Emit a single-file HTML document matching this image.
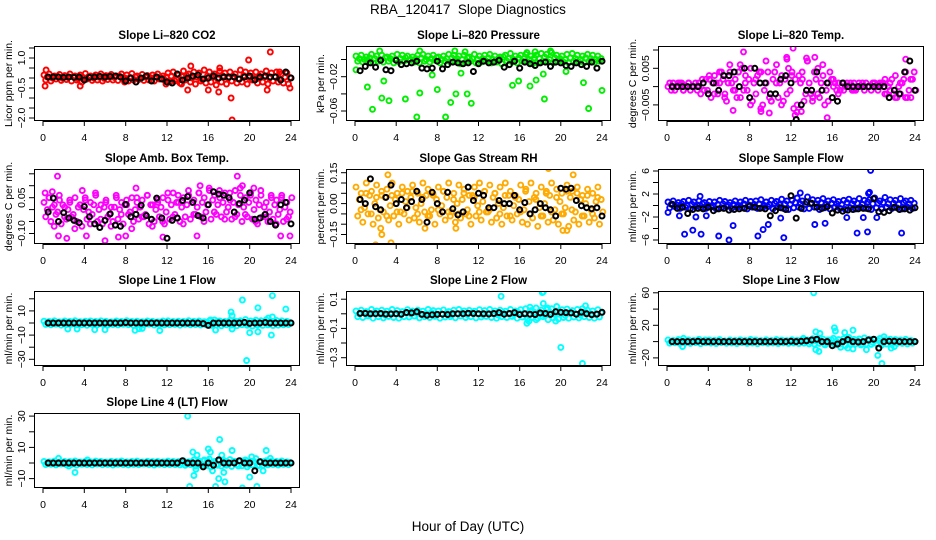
<!DOCTYPE html>
<html><head><meta charset="utf-8">
<style>
html,body{margin:0;padding:0;background:#fff;}
svg{display:block;font-family:"Liberation Sans",sans-serif;}
</style></head>
<body>
<svg id="chart" width="936" height="540" viewBox="0 0 936 540" xmlns="http://www.w3.org/2000/svg">
<rect width="936" height="540" fill="#fff"/>
<text x="468" y="14" font-size="13.5" text-anchor="middle">RBA_120417&#160; Slope Diagnostics</text>
<text x="468" y="531" font-size="13.5" text-anchor="middle">Hour of Day (UTC)</text>
</svg>
<script>
// ---- data ----
const xTicks = [0,4,8,12,16,20,24];

const p1_s1 = [0.15,0.2,0.1,0.18,0.12,0.2,0.1,0.15,0.22,0.1,0.15,0.2,0.12,0.18,0.1,0.2,0.15,0.22,0.1,0.18,0.12,0.15,0.2,0.1,0.25,0.3,0.15,0.35,0.2,0.3,0.25,0.4,0.3,0.2,0.35,0.25,0.3,0.2,0.4,0.3,0.25,0.3,0.2,0.35,0.25,0.3,0.2,0.25];
const p1_s2 = [-0.1,-0.15,-0.05,-0.12,-0.08,-0.15,-0.1,-0.2,-0.05,-0.12,-0.1,-0.15,-0.08,-0.1,-0.12,-0.05,-0.15,-0.1,-0.08,-0.12,-0.1,-0.15,-0.05,-0.1,-0.2,-0.15,-0.25,-0.1,-0.2,-0.3,-0.15,-0.25,-0.2,-0.35,-0.2,-0.3,-0.15,-0.25,-0.2,-0.3,-0.1,-0.25,-0.2,-0.3,-0.15,-0.2,-0.25,-0.3];
const p1_s3 = [0.05,0,0.08,-0.02,0.03,0.06,-0.03,0.02,0.07,0,0.04,-0.02,0.05,0.02,0.08,0,0.03,0.06,-0.02,0.04,0.01,0.07,0,0.05,0.1,-0.05,0.08,0.12,0,0.05,-0.08,0.1,0.05,-0.05,0.1,0,0.08,-0.05,0.12,0.03,-0.02,0.1,0.05,0,0.08,-0.03,0.05,0.02];
const p1_black = [0.05,0.05,0.05,0.03,0.05,0.03,0.05,-0.1,0.03,0.05,0.08,0.05,0.08,0.1,0.05,-0.15,0.0,-0.2,0.0,0.1,-0.15,0.05,-0.05,-0.2,-0.25,0.2,-0.1,0.0,0.1,0.15,-0.05,0.0,0.1,0.0,0.05,0.05,0.05,-0.05,0.05,0.1,-0.1,0.05,0.1,0.05,0.05,-0.1,0.3,0.0];
const p1_outX = [0.2,0.3,3.6,7.9,11.9,14.3,14.0,16.0,17.1,17.0,18.2,18.3,19.9,22.0,21.7,22.9,23.9,13.4];
const p1_outY = [-0.4,0.4,-0.4,-0.2,-0.3,0.6,-0.6,-0.6,0.5,-0.7,-1.0,-2.1,0.9,1.3,-0.6,0.3,-0.5,-0.3];

const p2_s1 = [0.004,0.005,0.003,0.006,0.004,0.005,0.003,0.004,0.006,0.005,0.004,0.003,0.005,0.006,0.004,0.005,0.003,0.004,0.006,0.005,0.004,0.005,0.003,0.006,0.004,0.005,0.006,0.004,0.003,0.005,0.007,0.004,0.005,0.006,0.004,0.005,0.007,0.006,0.008,0.005,0.004,0.006,0.007,0.005,0.004,0.006,0.005,0.004];
const p2_s2 = [-0.002,-0.003,-0.001,-0.004,-0.002,-0.003,-0.002,-0.004,-0.003,-0.002,-0.001,-0.003,-0.004,-0.002,-0.003,-0.001,-0.004,-0.002,-0.003,-0.002,-0.005,-0.003,-0.002,-0.004,-0.003,-0.002,-0.004,-0.003,-0.005,-0.002,-0.003,-0.004,-0.002,-0.003,-0.005,-0.004,-0.002,-0.003,-0.004,-0.002,-0.003,-0.004,-0.002,-0.003,-0.004,-0.002,-0.003,-0.002];
const p2_s3 = [0.001,0,0.002,0.001,0,0.002,0.001,0,0.001,0.002,0,0.001,0.002,0,0.001,0.002,0,0.001,0.002,0.001,0,0.002,0.001,0,0.001,0.002,0,0.001,0.003,0.001,0,0.002,0.001,0,0.002,0.001,0.003,0,0.002,0.001,0,0.002,0.001,0,0.002,0.001,0,0.001];
const p2_black = [-0.013,-0.008,-0.004,-0.009,-0.001,-0.012,-0.013,-0.001,-0.006,-0.005,-0.004,-0.002,-0.010,-0.011,-0.010,-0.002,-0.011,-0.006,-0.003,-0.004,-0.005,-0.004,-0.014,-0.005,-0.002,-0.004,-0.003,-0.001,-0.009,-0.006,-0.002,-0.010,-0.003,-0.005,-0.007,-0.004,-0.003,-0.008,-0.003,-0.004,-0.007,-0.008,-0.004,-0.006,-0.008,-0.003,-0.010,-0.002];
const p2_outX = [0.1,1.2,1.7,2.4,2.6,2.8,3.3,6.0,6.3,4.9,6.3,7.5,8.0,8.8,9.3,9.8,9.7,10.3,10.9,11.3,10.7,15.3,15.9,17.0,17.6,18.4,18.3,19.0,20.5,22.2,22.7,24.0,16.7,17.5];
const p2_outY = [-0.012,-0.032,-0.058,0.01,-0.045,-0.025,-0.048,-0.067,-0.039,-0.046,0.01,-0.018,-0.035,-0.067,-0.05,-0.04,0.01,-0.016,-0.04,-0.051,0.009,-0.03,-0.025,-0.031,-0.024,-0.046,-0.017,0.01,-0.014,-0.027,-0.057,-0.036,0.008,0.009];

const p3_s1 = [0,0.001,0,-0.001,0.001,0,0.001,-0.001,0.002,0.003,0.001,-0.002,0.004,0.002,-0.003,0.003,0.005,-0.002,0.004,0.001,-0.004,0.006,0.003,-0.002,0.004,-0.005,0.002,0.007,-0.003,0.005,0.003,-0.004,0,0.001,-0.001,0,0.001,0,-0.001,0,0.001,0,0.002,-0.001,0.003,-0.002,0.004,-0.003];
const p3_s2 = [0.001,-0.001,0.001,0,-0.001,0.001,-0.002,0.002,-0.003,0.001,0.004,-0.004,0.001,-0.003,0.005,-0.001,-0.004,0.003,-0.005,0.004,0.002,-0.003,-0.004,0.005,-0.006,0.003,-0.004,0.001,0.004,-0.003,-0.005,0.004,0.001,-0.001,0,0.001,-0.001,0,0.001,-0.001,0,0.001,-0.002,0.002,-0.003,0.001,-0.003,0.002];
const p3_s3 = [-0.001,0,0.001,0,0,-0.001,0.002,-0.001,0.001,-0.002,0.002,0.001,-0.001,0.004,-0.001,0.002,0.001,0.004,-0.001,-0.003,0.004,0.001,0.002,-0.001,0.002,0.001,-0.002,-0.002,0.002,0.001,-0.001,0.002,-0.001,0,0.001,-0.001,0,0.001,0,0.001,-0.001,0.001,0,-0.002,0,0.002,-0.001,0.004];
const p3_s4 = [0,0.001,-0.001,0.001,0,0,-0.001,0.003,-0.002,0.004,-0.003,0.006,-0.001,0.006,0.001,-0.005,0.002,-0.006,0.007,-0.004,0.001,-0.005,0.008,0.003,-0.007,0.004,0.007,-0.004,-0.002,0.006,0.001,0.002,-0.002,0.001,0,-0.001,0.001,0,0,0.001,0.001,-0.002,0.001,-0.003,0.001,-0.003,0.002,-0.001];
const p3_black = [0,0,0,0,0,0,0.001,-0.002,0.001,-0.001,0.003,0.003,0.004,0,0.005,-0.003,0.005,0.001,0.001,-0.002,-0.002,0.002,0.003,0.001,-0.009,-0.005,-0.001,-0.001,0.004,-0.001,0.001,-0.003,-0.004,0.001,0,0,0,0,0,0,0,0,-0.003,-0.001,-0.002,0.004,0.007,-0.001];
const p3_outX = [12.2,7.4,14.3,23.1,6.4,9.1,12.4,15.5,13.0,9.9,11.6,13.5];
const p3_outY = [0.0105,0.0095,0.008,0.0075,-0.0065,-0.0068,-0.0078,-0.0085,-0.0068,-0.0072,0.0075,0.0078];

const p4_s1 = [0.03,0.05,0.02,0.04,0.01,0.03,0.05,0.02,0.04,0.03,0.06,0.02,0.04,0.01,0.05,0.03,0.02,0.05,0.03,0.04,0.06,0.02,0.03,0.05,0.04,0.07,0.03,0.05,0.06,0.04,0.07,0.05,0.08,0.06,0.05,0.07,0.04,0.08,0.06,0.05,0.07,0.04,0.06,0.03,0.05,0.04,0.06,0.03];
const p4_s2 = [-0.03,-0.05,-0.02,-0.06,-0.04,-0.03,-0.05,-0.07,-0.04,-0.02,-0.05,-0.06,-0.03,-0.05,-0.04,-0.06,-0.02,-0.05,-0.04,-0.03,-0.06,-0.05,-0.03,-0.06,-0.04,-0.02,-0.05,-0.03,-0.04,-0.02,-0.03,-0.01,-0.04,-0.02,-0.03,-0.01,-0.04,-0.02,-0.05,-0.03,-0.04,-0.06,-0.03,-0.05,-0.04,-0.02,-0.05,-0.03];
const p4_s3 = [0,0.01,-0.01,0.02,0,-0.02,0.01,0,-0.01,0.02,0,0.01,-0.02,0.01,0,0.02,-0.01,0,0.01,-0.02,0.02,0,0.01,-0.01,0.02,0.03,0.01,0.02,0.03,0.01,0.03,0.02,0.04,0.02,0.03,0.01,0.03,0.02,0.01,0.03,0,0.02,0.01,-0.01,0.02,0,0.01,-0.01];
const p4_s4 = [0.05,-0.07,0.06,-0.03,0.04,-0.08,0.02,0.05,-0.06,0.07,-0.04,0.03,-0.07,0.06,-0.02,0.04,-0.08,0.05,-0.03,0.06,-0.07,0.04,-0.05,0.07,-0.03,0.06,-0.06,0.08,-0.02,0.07,-0.05,0.09,-0.01,0.08,-0.04,0.07,-0.03,0.09,-0.02,0.06,-0.05,0.08,-0.03,0.06,-0.06,0.05,-0.04,0.05];
const p4_black = [-0.01,0.048,-0.05,-0.013,-0.035,-0.045,-0.055,0.013,-0.03,-0.06,-0.075,-0.045,-0.018,-0.065,-0.07,0.022,-0.03,-0.02,0.018,-0.025,-0.04,0.048,-0.035,-0.12,-0.045,-0.035,0.038,0.055,0.03,-0.025,-0.035,0.02,0.075,0.065,0.06,0.05,-0.01,0.025,0.04,0.07,-0.04,-0.035,-0.02,-0.05,-0.065,0.02,0.03,-0.06];
const p4_outX = [1.4,18.8,15.2,0.2,2.3,1.5,6.0,4.2,7.3,8.0,11.6,14.9,23.0,23.9,9.0,19.3,20.4,0.9,3.8];
const p4_outY = [0.14,0.14,0.1,0.07,-0.12,-0.11,-0.13,-0.11,-0.115,-0.11,-0.115,-0.11,-0.11,-0.11,0.09,0.1,0.09,0.075,0.08];

const p5_s1 = [0.08,0.05,0.1,0.06,0.09,0.04,0.07,0.1,0.05,0.08,0.06,0.09,0.05,0.1,0.07,0.04,0.08,0.06,0.1,0.05,0.09,0.07,0.04,0.08,0.1,0.06,0.09,0.05,0.08,0.1,0.06,0.04,0.09,0.07,0.1,0.05,0.08,0.06,0.1,0.07,0.05,0.09,0.06,0.08,0.04,0.07,0.05,0.08];
const p5_s2 = [-0.06,-0.09,-0.05,-0.1,-0.07,-0.04,-0.08,-0.06,-0.1,-0.05,-0.08,-0.07,-0.09,-0.04,-0.06,-0.1,-0.05,-0.08,-0.06,-0.09,-0.07,-0.05,-0.1,-0.06,-0.08,-0.04,-0.09,-0.07,-0.1,-0.06,-0.08,-0.05,-0.09,-0.1,-0.07,-0.11,-0.06,-0.09,-0.08,-0.1,-0.05,-0.11,-0.08,-0.1,-0.06,-0.09,-0.07,-0.1];
const p5_s3 = [0.02,-0.02,0.04,0,-0.03,0.03,-0.01,0.02,-0.04,0.01,0.03,-0.02,0,0.04,-0.03,0.02,-0.01,0.03,-0.04,0,0.02,-0.03,0.04,-0.01,0.01,-0.04,0.03,0,-0.02,0.04,-0.01,0.02,-0.03,0.01,0.03,-0.02,0,0.04,-0.03,0.01,-0.02,0.03,-0.04,0.02,0,-0.03,0.01,0.02];
const p5_s4 = [-0.03,0.05,-0.05,0.03,0.06,-0.06,0.04,-0.04,0.05,-0.02,0.06,-0.05,0.03,-0.06,0.05,-0.03,0.06,-0.04,0.02,-0.05,0.05,-0.06,0.03,-0.04,0.06,-0.03,0.05,-0.05,0.04,-0.06,0.03,-0.04,0.06,-0.05,0.02,-0.06,0.05,-0.04,0.03,-0.05,0.06,-0.03,0.05,-0.06,0.04,-0.05,0.03,-0.04];
const p5_black = [0.02,0,0.12,-0.015,-0.03,0.03,0.09,0,0.02,-0.02,0.01,0.06,0.02,-0.09,0.055,0,-0.04,0.055,-0.025,-0.055,-0.04,0.08,0.015,0.05,0.04,-0.02,-0.02,0.015,0,0,0.04,-0.03,0.005,-0.05,-0.03,0,-0.02,-0.03,-0.06,0.075,0.07,0.075,0.015,-0.01,-0.02,-0.025,-0.02,-0.06];
const p5_outX = [2.0,2.6,2.5,3.5,18.8,20.2,20.6,9.8,6.8,3.2,21.2];
const p5_outY = [-0.2,-0.15,-0.12,-0.19,0.17,-0.13,-0.13,-0.12,-0.12,0.14,0.14];

const p6_s1 = [0.6,0.8,0.5,0.7,0.9,0.6,0.8,0.5,0.7,0.6,0.9,0.7,0.5,0.8,0.6,0.9,0.7,0.8,1.0,0.6,0.9,0.7,1.1,0.8,0.9,1.3,0.8,1.5,1.0,0.9,1.2,0.8,1.0,0.7,0.9,1.1,0.8,1.2,0.9,1.0,1.3,0.8,1.4,1.0,0.9,1.2,0.8,0.9];
const p6_s2 = [-0.4,-0.2,-0.5,-0.3,-0.6,-0.2,-0.4,-0.5,-0.3,-0.6,-0.4,-0.2,-0.5,-0.3,-0.4,-0.6,-0.3,-0.5,-0.4,-0.2,-0.6,-0.3,-0.5,-0.7,-0.4,-0.3,-0.6,-0.5,-0.3,-0.7,-0.4,-0.6,-0.3,-0.5,-0.7,-0.4,-0.6,-0.3,-0.5,-0.7,-0.4,-0.6,-0.3,-0.5,-0.4,-0.6,-0.3,-0.5];
const p6_s3 = [0.2,0.1,0.3,0,0.2,0.1,0.3,0.1,0,0.2,0.3,0.1,0.2,0,0.3,0.1,0.2,0.3,0,0.2,0.4,0.1,0.3,0.2,0.5,0.3,0.2,0.4,0.3,0.5,0.2,0.4,0.3,0.2,0.5,0.3,0.4,0.2,0.6,0.3,0.4,0.5,0.3,0.4,0.2,0.5,0.3,0.4];
const p6_black = [0.2,-0.5,-0.3,-1.4,-0.7,-0.5,-0.6,-0.3,-0.9,-0.6,-0.5,-0.8,-0.7,-0.6,-0.5,-0.1,-0.3,-0.5,-0.6,-1.8,-0.9,-0.4,-0.7,1.7,-2.2,-0.5,0.6,0.4,-0.3,-0.5,-0.2,-1.3,-0.8,-1.0,-0.8,-0.7,-0.6,-0.5,-0.6,1.2,-1.1,-1.2,-0.9,-0.3,-0.7,-0.6,-0.8,-0.4];
const p6_outX = [0.1,1.2,1.7,2.5,3.3,2.8,5.0,6.0,6.4,8.8,9.3,9.8,11.3,11.0,12.9,14.3,15.3,18.4,19.4,22.7,19.7,19.6,19.5,20.3,19.0,17.4,3.8,3.2];
const p6_outY = [-1.2,-1.8,-5.0,-4.3,-5.0,-2.0,-5.3,-6.0,-3.5,-5.3,-4.2,-3.3,-5.6,-2.2,2.2,-3.3,-3.1,-4.8,-4.6,-4.8,6.1,2.3,2.1,-2.1,-2.1,-2.1,-1.8,1.6];

const p7_s1 = [1.5,1.2,1.8,1.0,1.6,1.3,1.9,1.1,1.5,1.7,1.2,1.8,1.4,1.0,1.6,1.3,1.9,1.2,1.5,1.1,1.7,1.4,1.0,1.6,1.8,1.3,1.5,1.2,1.9,1.4,1.6,1.1,1.8,2.5,1.7,1.3,2.2,1.5,1.9,2.8,1.6,2.3,1.9,2.6,1.5,2.1,1.8,1.4];
const p7_s2 = [-1.2,-1.5,-1.0,-1.8,-1.3,-1.1,-1.6,-1.4,-1.9,-1.2,-1.5,-1.0,-1.7,-1.3,-1.6,-1.1,-1.4,-1.8,-1.2,-1.5,-1.0,-1.7,-1.3,-1.6,-1.4,-1.2,-1.8,-1.1,-1.5,-1.3,-1.7,-1.4,-2.0,-1.6,-2.3,-1.5,-1.8,-2.2,-1.4,-1.9,-2.5,-1.7,-2.0,-1.6,-2.1,-1.8,-1.5,-1.3];
const p7_s3 = [0.3,-0.2,0.4,0,-0.3,0.2,0.5,-0.1,0.3,-0.4,0.1,0.2,-0.2,0.4,0,-0.3,0.2,0.1,-0.1,0.3,-0.2,0.4,0,-0.3,0.2,-0.1,0.3,0.5,-0.2,0.1,-0.3,0.4,0,1.5,-0.5,0.8,-1.0,1.2,0.5,-0.8,1.0,-0.5,0.7,-0.3,0.9,0.2,-0.4,0.3];
const p7_black = [0,0,0,0,0,0,0,0,0,0,0,0,0,0,0,0.3,0,0,0,0,0,0,0,0,0,0,0,0,0,0,-0.5,-2.0,0,0,0,0,0,0,0.5,-0.3,0,0,0.4,0,0,0,0,0];
const p7_outX = [2.4,3.3,5.0,6.0,8.9,9.3,9.6,11.3,16.7,18.3,18.2,18.3,19.3,19.7,20.0,20.8,20.8,22.1,22.2,22.2,23.5,21.8,16.2];
const p7_outY = [-5,-5,-5.5,-5.5,-6,-4.7,-4.5,-6.2,-5.8,-5,9,6,19,-31,-8,-7.3,12.5,-10,22.5,5,11.5,4,2.5];

const p8_s1 = [0.02,0.025,0.015,0.03,0.02,0.025,0.018,0.03,0.022,0.015,0.028,0.02,0.025,0.018,0.03,0.022,0.02,0.027,0.015,0.025,0.03,0.02,0.024,0.018,0.028,0.022,0.03,0.02,0.025,0.018,0.03,0.02,0.028,0.035,0.022,0.04,0.025,0.03,0.035,0.02,0.028,0.032,0.022,0.03,0.035,0.025,0.02,0.028];
const p8_s2 = [-0.02,-0.025,-0.015,-0.03,-0.02,-0.028,-0.018,-0.025,-0.03,-0.02,-0.022,-0.015,-0.028,-0.02,-0.025,-0.018,-0.03,-0.022,-0.02,-0.027,-0.015,-0.025,-0.02,-0.028,-0.022,-0.018,-0.025,-0.03,-0.02,-0.025,-0.018,-0.03,-0.022,-0.035,-0.025,-0.03,-0.02,-0.04,-0.028,-0.035,-0.025,-0.03,-0.022,-0.028,-0.02,-0.025,-0.03,-0.022];
const p8_s3 = [0,0.005,-0.005,0.008,0,-0.008,0.005,0,-0.005,0.008,0,0.005,-0.005,0,0.008,-0.005,0,0.005,-0.008,0,0.005,-0.005,0.008,0,-0.005,0.005,0,-0.008,0.005,0,-0.005,0.008,0,-0.01,0.01,0,-0.01,0.012,-0.005,0.008,-0.01,0.005,0,-0.008,0.01,0,-0.005,0.005];
const p8_black = [0.003,0.003,0,0.001,0.002,-0.002,-0.001,0.001,-0.003,0.009,0.006,0.014,-0.004,-0.01,-0.007,-0.004,-0.003,-0.005,0.001,0.001,0.001,0.004,0.002,0.001,0,-0.001,0.002,0.008,-0.003,0.002,0.008,-0.005,0,-0.003,-0.005,0.006,0.002,-0.004,0.014,0.01,0.008,0.006,-0.003,0.012,0,-0.006,-0.002,0.01];
const p8_outX = [14.2,18.3,18.2,18.3,20.0,22.1,16.7,16.9,17.6,19.5,19.6,22.4,17.0,18.7];
const p8_outY = [0.12,0.15,0.145,0.07,-0.23,-0.34,-0.065,-0.05,-0.04,-0.05,0.05,0.055,0.045,0.04];

const p9_s1 = [2,1.5,2.5,1,2,1.5,2.8,1.2,2,1.6,2.4,1,2,1.5,2.2,1.3,2.6,1.8,1.2,2.2,1.5,2.5,1.8,1.2,2.3,1.6,2.8,2,3.5,2.5,3,2,4,2.5,3.5,5,2.8,3.2,4.5,3,2.5,3.8,2.2,3,2.5,2,2.8,1.5];
const p9_s2 = [-2,-1.5,-2.5,-1.8,-2.2,-1.2,-2.6,-1.5,-2,-2.4,-1.3,-2.1,-1.7,-2.5,-1.4,-2.2,-1.8,-2.6,-1.5,-2.1,-1.9,-2.4,-1.6,-2.2,-1.8,-2.5,-2,-2.8,-3,-2.2,-3.5,-2.5,-4,-3,-5,-3.5,-2.8,-4,-3,-3.5,-2.5,-4.5,-3,-3.5,-2.5,-2.2,-2.8,-2];
const p9_s3 = [0,0.5,-0.5,0.8,0,-0.8,0.5,0,-0.5,0.8,0,0.5,-0.5,0,0.8,-0.5,0,0.5,-0.8,0,0.5,-0.5,0.8,0,-0.5,0.5,0,-0.8,1,0,-1.5,2,0,-2,3,-1,1,-3,2,-1,1.5,-2,1,-1,0.5,0,-0.5,0.5];
const p9_black = [0,0,0,0,0,0.5,0,0,0,0,0,0,0,0,0,0,0,0,0,0,0,0,0,0.5,0,0.5,1,2,3,0,0,-5,-3,0,2.5,0,-0.5,0,2,3,-8,0,0.5,0.5,0,0,0,0];
const p9_outX = [14.2,14.4,14.8,16.2,16.3,17.2,18.0,18.0,17.5,14.4,14.7,19.3,20.4,20.8,21.7,22.0,15.3,16.8,13.2,1.5,1.6,3.7,21.0];
const p9_outY = [60,12,10,17,13,11,14,-9,-8,-10,-12,-10,-17,-27,-8,-6,-4,-7,4,-6,4,2,6];

const p10_s1 = [1,0.8,1.2,0.6,1,0.9,1.3,0.7,1.1,0.8,1.2,1,0.7,1.1,0.9,1.3,0.8,1,1.2,0.7,1.1,0.9,1,0.8,1.2,1,0.9,1.5,0.8,2,1.2,1.5,2.5,1,1.8,1.3,2.2,1,1.5,2,1.2,2.8,1,1.5,1.2,1,1.3,0.8];
const p10_s2 = [-1,-0.8,-1.2,-0.7,-1.1,-0.9,-1.3,-0.8,-1,-1.2,-0.7,-1.1,-0.9,-1.3,-0.8,-1,-1.2,-0.9,-1.1,-0.7,-1,-1.3,-0.8,-1.1,-1,-0.9,-1.2,-1.5,-1,-2,-1.3,-1.8,-2.5,-1.2,-2,-1.5,-2.2,-1,-1.8,-2.5,-1.3,-2,-1.5,-1.2,-1,-1.3,-0.9,-1.1];
const p10_s3 = [0,0.3,-0.3,0.2,0,-0.2,0.3,0,-0.3,0.2,0,0.3,-0.2,0,0.3,-0.3,0,0.2,-0.3,0,0.3,-0.2,0.2,0,-0.3,0.3,0,-0.5,0.8,0,-1,1.5,0,-1.5,2,-1,1,-2,1.5,-1,1,-1.5,1,-0.5,0.5,0,-0.3,0.3];
const p10_black = [0,0,0,0,0,0,0,0,0,0,0,0,0,0,0,0,0,0,0,0,0,0,0,0,0,0,1.5,0,0,0,-2.5,0,-1.5,2,0,0,0,1.5,0,0,-5,0.8,0,0,0,0,0,0];
const p10_outX = [14.0,14.2,14.5,14.6,14.9,14.8,16.0,16.2,16.4,16.7,17.0,17.1,17.3,17.5,17.6,18.3,19.3,20.0,20.2,20.7,21.6,21.3,22.0,22.8,1.5,3.1,4.3,2.5,12.8,15.6];
const p10_outY = [30,-15,7,-8,5,-4,9,7,-5,-15,-10,15,5,-6,-12,8,-16,-9,4,-15,8,-5,3,0,3,-6,2,-2,-1,2];

// ---- layout ----
const cols = [{l:34,r:300},{l:346,r:611},{l:658,r:924}];
const rows = [{t:46,b:121},{t:169,b:244},{t:291,b:366},{t:413,b:488}];

const panels = [
 {name:'co2', title:'Slope Li\u2013820 CO2', ylab:'Licor ppm per min.', c:0,r:0, ymin:-2.15, ymax:1.6, ticks:[-2,-1.5,-1,-0.5,0,0.5,1,1.5], labels:[-2.0,-0.5,1.0], fmt:1, col:'#ff0000', s:[p1_s1,p1_s2,p1_s3], bl:p1_black, ox:p1_outX, oy:p1_outY},
 {name:'pressure', title:'Slope Li\u2013820 Pressure', ylab:'kPa per min.', c:1,r:0, ymin:-0.0716, ymax:0.0157, ticks:[-0.06,-0.04,-0.02,0], labels:[-0.06,-0.02], fmt:2, col:'#00ee00', s:[p2_s1,p2_s2,p2_s3], bl:p2_black, ox:p2_outX, oy:p2_outY},
 {name:'temp', title:'Slope Li\u2013820 Temp.', ylab:'degrees C per min.', c:2,r:0, ymin:-0.0094, ymax:0.0111, ticks:[-0.005,0,0.005,0.01], labels:[-0.005,0.005], fmt:3, col:'#ff00ff', s:[p3_s1,p3_s2,p3_s3,p3_s4], bl:p3_black, ox:p3_outX, oy:p3_outY},
 {name:'amb-box-temp', title:'Slope Amb. Box Temp.', ylab:'degrees C per min.', c:0,r:1, ymin:-0.144, ymax:0.17, ticks:[-0.1,-0.05,0,0.05,0.1,0.15], labels:[-0.1,0.05], fmt:2, col:'#ff00ff', s:[p4_s1,p4_s2,p4_s3,p4_s4], bl:p4_black, ox:p4_outX, oy:p4_outY},
 {name:'gas-stream-rh', title:'Slope Gas Stream RH', ylab:'percent per min.', c:1,r:1, ymin:-0.196, ymax:0.168, ticks:[-0.15,-0.1,-0.05,0,0.05,0.1,0.15], labels:[-0.15,0,0.15], fmt:2, col:'#ffaa00', s:[p5_s1,p5_s2,p5_s3,p5_s4], bl:p5_black, ox:p5_outX, oy:p5_outY},
 {name:'sample-flow', title:'Slope Sample Flow', ylab:'ml/min per min.', c:2,r:1, ymin:-6.7, ymax:6.35, ticks:[-6,-4,-2,0,2,4,6], labels:[-6,-2,2,6], fmt:0, col:'#0000ff', s:[p6_s1,p6_s2,p6_s3], bl:p6_black, ox:p6_outX, oy:p6_outY},
 {name:'line1-flow', title:'Slope Line 1 Flow', ylab:'ml/min per min.', c:0,r:2, ymin:-35.5, ymax:26.4, ticks:[-30,-20,-10,0,10,20], labels:[-30,-10,10], fmt:0, col:'#00ffff', s:[p7_s1,p7_s2,p7_s3], bl:p7_black, ox:p7_outX, oy:p7_outY},
 {name:'line2-flow', title:'Slope Line 2 Flow', ylab:'ml/min per min.', c:1,r:2, ymin:-0.357, ymax:0.156, ticks:[-0.3,-0.2,-0.1,0,0.1], labels:[-0.3,-0.1,0.1], fmt:1, col:'#00ffff', s:[p8_s1,p8_s2,p8_s3], bl:p8_black, ox:p8_outX, oy:p8_outY},
 {name:'line3-flow', title:'Slope Line 3 Flow', ylab:'ml/min per min.', c:2,r:2, ymin:-30, ymax:62.2, ticks:[-20,0,20,40,60], labels:[-20,20,60], fmt:0, col:'#00ffff', s:[p9_s1,p9_s2,p9_s3], bl:p9_black, ox:p9_outX, oy:p9_outY},
 {name:'line4-flow', title:'Slope Line 4 (LT) Flow', ylab:'ml/min per min.', c:0,r:3, ymin:-16, ymax:32, ticks:[-10,0,10,20,30], labels:[-10,10,30], fmt:0, col:'#00ffff', s:[p10_s1,p10_s2,p10_s3], bl:p10_black, ox:p10_outX, oy:p10_outY}
];

const NS = 'http://www.w3.org/2000/svg';
const svg = document.getElementById('chart');
function mk(tag, attrs, parent){
  const e = document.createElementNS(NS, tag);
  for (const k in attrs) e.setAttribute(k, attrs[k]);
  (parent||svg).appendChild(e);
  return e;
}
function fmtNum(v, d){
  let s = v.toFixed(d);
  if (parseFloat(s) === 0) s = (0).toFixed(d);
  return s.replace('-', '\u2212');
}

panels.forEach(p => {
  const C = cols[p.c], R = rows[p.r];
  const L = C.l, Rr = C.r, T = R.t, B = R.b;
  const xs = h => L + 9 + h * (Rr - L - 18) / 24;
  const ys = v => B - (v - p.ymin) / (p.ymax - p.ymin) * (B - T);

  const g = mk('g', {});
  
  

  const clip = mk('clipPath', {id: 'clip-' + p.name}, g);
  mk('rect', {x: L, y: T, width: Rr - L, height: B - T}, clip);

  const pts = mk('g', {'clip-path': 'url(#clip-' + p.name + ')', fill: 'none', 'stroke-width': 1.9}, g);
  
  

  p.s.forEach((arr, k) => {
    arr.forEach((v, i) => {
      const h = 0.1 + i * 0.5 + k * 0.16;
      const c = mk('circle', {cx: xs(h).toFixed(1), cy: ys(v).toFixed(1), r: 2.5, stroke: p.col}, pts);
      
      
    });
  });
  p.ox.forEach((h, i) => {
    const c = mk('circle', {cx: xs(h).toFixed(1), cy: ys(p.oy[i]).toFixed(1), r: 2.5, stroke: p.col}, pts);
    
    
  });
  p.bl.forEach((v, i) => {
    const h = 0.5 + i * 0.5;
    const c = mk('circle', {cx: xs(h).toFixed(1), cy: ys(v).toFixed(1), r: 2.5, stroke: '#000', 'stroke-width': 2}, pts);
    
    
  });

  const box = mk('rect', {x: L + 0.5, y: T + 0.5, width: Rr - L - 1, height: B - T - 1, fill: 'none', stroke: '#000', 'stroke-width': 1}, g);
  
  

  const xa = mk('g', {stroke: '#000', 'stroke-width': 1}, g);
  
  
  mk('line', {x1: xs(xTicks[0]), x2: xs(xTicks[xTicks.length - 1]), y1: B + 0.5, y2: B + 0.5}, xa);
  xTicks.forEach(t => {
    mk('line', {x1: xs(t).toFixed(1), x2: xs(t).toFixed(1), y1: B, y2: B + 5}, xa);
    const tx = mk('text', {x: xs(t).toFixed(1), y: B + 20, 'font-size': 10.5, 'text-anchor': 'middle', stroke: 'none', fill: '#000'}, g);
    
    
    tx.textContent = t;
  });

  const ya = mk('g', {stroke: '#000', 'stroke-width': 1}, g);
  
  
  mk('line', {x1: L + 0.5, x2: L + 0.5, y1: ys(p.ticks[0]), y2: ys(p.ticks[p.ticks.length - 1])}, ya);
  p.ticks.forEach(t => {
    mk('line', {x1: L - 5, x2: L, y1: ys(t).toFixed(1), y2: ys(t).toFixed(1)}, ya);
  });
  p.labels.forEach(t => {
    const y = ys(t);
    const tx = mk('text', {x: 0, y: 0, transform: 'translate(' + (L - 9) + ',' + y.toFixed(1) + ') rotate(-90)', 'font-size': 10.5, 'text-anchor': 'middle', fill: '#000'}, g);
    
    
    tx.textContent = fmtNum(t, p.fmt);
  });

  const yt = mk('text', {x: 0, y: 0, transform: 'translate(' + (L - 22) + ',' + ((T + B) / 2) + ') rotate(-90)', 'font-size': 10.5, 'text-anchor': 'middle', fill: '#000'}, g);
  
  
  yt.textContent = p.ylab;

  const tt = mk('text', {x: (L + Rr) / 2, y: T - 7, 'font-size': 11.5, 'font-weight': 'bold', 'text-anchor': 'middle', fill: '#000'}, g);
  
  
  tt.textContent = p.title;
});
</script>
</body></html>
